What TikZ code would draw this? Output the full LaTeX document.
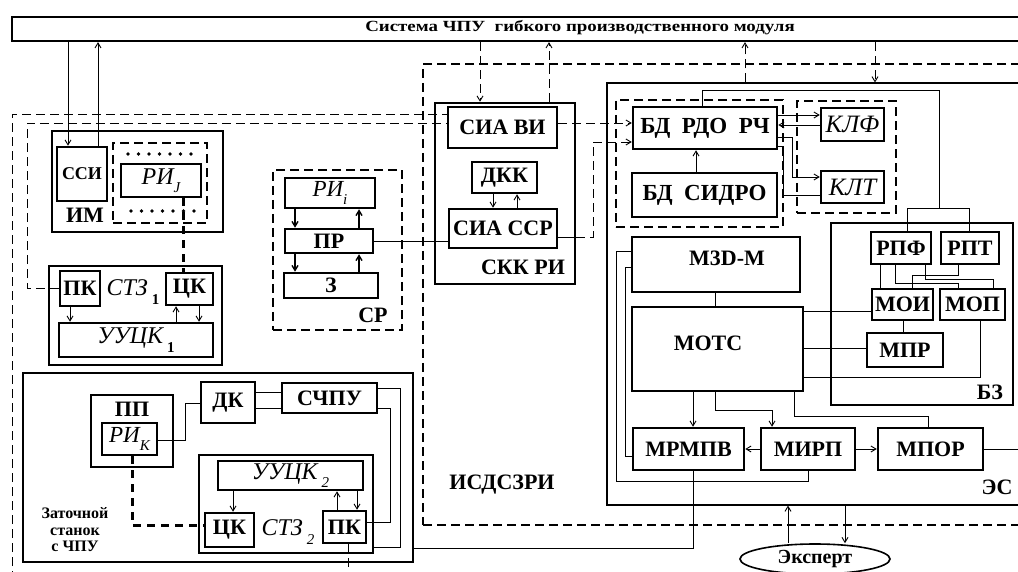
\documentclass[tikz,border=0pt]{standalone}
\usepackage{fontspec}
\setmainfont{Liberation Serif}
\usetikzlibrary{arrows.meta,shapes.geometric}
\newcommand{\lowidx}[1]{\raisebox{-0.35em}{\fontsize{15}{15}\selectfont #1}}
\tikzset{
  blk/.style={draw, line width=2.5pt, inner sep=0pt, font=\bfseries\fontsize{22}{24}\selectfont},
  grp/.style={draw, line width=1.1pt, dash pattern=on 9pt off 5pt, inner sep=0pt},
  sz/.style 2 args={minimum width=#1pt, minimum height=#2pt},
  lbl/.style={inner sep=0pt, font=\bfseries\fontsize{22}{24}\selectfont},
  ital/.style={inner sep=0pt, font=\itshape\fontsize{24}{26}\selectfont},
  wire/.style={line width=0.9pt},
  arr/.style={wire, -{Straight Barb[length=5pt,width=6pt]}},
  dline/.style={line width=0.9pt, dash pattern=on 9pt off 5pt},
  thickdash/.style={line width=3pt, dash pattern=on 8pt off 6pt},
}
\begin{document}
\begin{tikzpicture}[x=1pt,y=-1pt]
\useasboundingbox (0,0) rectangle (1018,572);
% upper system
\node[blk, line width=2.2pt, sz={1018}{24}] (cnc) at (521,29) {};
\node[lbl, font=\bfseries\fontsize{15.5}{16}\selectfont] (cnctext) at (580,28) {\scalebox{1.22}[1]{Система ЧПУ\ \ гибкого производственного модуля}};
% ИСДСЗРИ and ЭС frames
\node[grp, sz={607}{461}] (isd) at (726.5,294.5) {};
\node[lbl] (isdtext) at (502,485) {ИСДСЗРИ};
\node[draw, line width=1.1pt, inner sep=0pt, sz={423}{422}] (es) at (818.5,294) {};
\node[lbl] (estext) at (997,487) {ЭС};

% ИМ
\node[blk, sz={171}{101}] (im) at (137.5,181.5) {};
\node[lbl] (imtext) at (85,215) {ИМ};
\node[blk, sz={50}{54}, font=\bfseries\fontsize{18}{19}\selectfont] (ssi) at (82,174) {ССИ};
\node[grp, sz={94}{80}] (rijgrp) at (160,183) {};
\node[blk, sz={80}{33}, font=\itshape\fontsize{24}{26}\selectfont] (rij) at (161,180.5) {РИ\lowidx{J}};
\foreach \i in {0,...,6} {
  \fill (128+10.5*\i,154) circle (1.8);
  \fill (131+10.5*\i,211) circle (1.8);
}
\draw[arr] (68,0 |- cnc.south) -- (68,0 |- ssi.north);
\draw[arr] (98,0 |- ssi.north) -- (98,0 |- cnc.south);

% СТЗ 1
\node[blk, sz={173}{99}] (stz1) at (135.5,315.5) {};
\node[blk, sz={40}{35}] (pk1) at (80,288.5) {ПК};
\node[blk, sz={47}{32}] (ck1) at (189.5,289) {ЦК};
\node[blk, sz={154}{34}, font=\itshape\fontsize{24}{26}\selectfont] (uuck1) at (136,340) {УУЦК\,\lowidx{\bfseries\upshape 1}};
\node[ital] (stz1text) at (133,292) {СТЗ\,\lowidx{\bfseries\upshape 1}};
\draw[arr] (70,0 |- pk1.south) -- (70,0 |- uuck1.north);
\draw[arr] (176,0 |- uuck1.north) -- (176,0 |- ck1.south);
\draw[arr] (199,0 |- ck1.south) -- (199,0 |- uuck1.north);
\draw[thickdash] (183,0 |- rij.south) -- (183,0 |- ck1.north);

% СР
\node[grp, sz={129}{160}] (sr) at (337.5,250) {};
\node[blk, sz={90}{30}, font=\itshape\fontsize{23}{25}\selectfont] (rii) at (330,193) {РИ\lowidx{i}};
\node[blk, sz={88}{24}] (pr) at (329,241) {ПР};
\node[blk, sz={94}{25}] (zz) at (331,285.5) {З};
\node[lbl] (srtext) at (373,315) {СР};
\draw[arr, line width=1.4pt] (295,0 |- rii.south) -- (295,0 |- pr.north);
\draw[arr, line width=1.4pt] (359,0 |- pr.north) -- (359,0 |- rii.south);
\draw[arr, line width=1.4pt] (295,0 |- pr.south) -- (295,0 |- zz.north);
\draw[arr, line width=1.4pt] (359,0 |- zz.north) -- (359,0 |- pr.south);

% СКК РИ
\node[blk, sz={140}{181}] (skk) at (505,193.5) {};
\node[blk, sz={109}{41}] (siavi) at (502.5,127.5) {СИА ВИ};
\node[blk, sz={65}{31}] (dkk) at (504.5,177.5) {ДКК};
\node[blk, sz={108}{39}] (siassr) at (503,228.5) {СИА ССР};
\node[lbl] (skktext) at (523,267) {СКК РИ};
\draw[arr] (493,0 |- dkk.south) -- (493,0 |- siassr.north);
\draw[arr] (517,0 |- siassr.north) -- (517,0 |- dkk.south);
\draw[wire] (pr.east) -- (siassr.west |- pr.east);
\draw[arr, dline] (480,0 |- cnc.south) -- (480,0 |- skk.north);
\draw[arr, dline] (549,0 |- skk.north) -- (549,0 |- cnc.south);

% left dashed links
\coordinate (outerfoot) at (12,580);
\draw[dline] (outerfoot) -- (12,114) -- (siavi.west |- 0,114);
\draw[dline] (pk1.west) -- (27,0 |- pk1.west) -- (27,123) -- (siavi.west |- 0,123);

% БД
\node[grp, sz={167}{127}] (bdgrp) at (699.5,163.5) {};
\node[grp, sz={99}{112}] (klgrp) at (846.5,157) {};
\node[blk, sz={144}{42}, font=\bfseries\fontsize{23}{25}\selectfont] (bdrdo) at (705,128) {БД\ \ РДО\ \ РЧ};
\node[blk, sz={145}{44}, font=\bfseries\fontsize{23}{25}\selectfont] (bdsidro) at (704.5,195) {БД\ \ СИДРО};
\node[blk, sz={63}{33}, font=\itshape\fontsize{25}{27}\selectfont] (klf) at (852.5,124.5) {КЛФ};
\node[blk, sz={63}{32}, font=\itshape\fontsize{25}{27}\selectfont] (klt) at (852.5,187) {КЛТ};
\draw[arr, dline] (siavi.east |- 0,123) -- (bdrdo.west |- 0,123);
\draw[wire] (siassr.east |- 0,237) -- (skk.east |- 0,237);
\draw[arr, dline] (skk.east |- 0,237) -- (593,237) -- (593,142) -- (bdrdo.west |- 0,142);
\draw[arr] (696,0 |- bdsidro.north) -- (696,0 |- bdrdo.south);
\draw[arr] (bdrdo.east |- 0,115) -- (klf.west |- 0,115);
\draw[arr] (klf.west |- 0,125) -- (bdrdo.east |- 0,125);
\draw[arr] (bdrdo.east |- 0,137) -- (792,137) -- (792,177) -- (klt.west |- 0,177);
\draw[wire] (klt.west |- 0,195) -- (783,195) -- (783,146) -- (bdrdo.east |- 0,146);
\draw[arr, dline] (745,0 |- es.north) -- (745,0 |- cnc.south);
\draw[arr, dline] (875,0 |- cnc.south) -- (875,0 |- es.north);

% БЗ
\node[blk, sz={182}{182}] (bz) at (922,314) {};
\node[lbl] (bztext) at (990,392) {БЗ};
\node[blk, sz={60}{32}] (rpf) at (901,248) {РПФ};
\node[blk, sz={58}{32}] (rpt) at (970,248) {РПТ};
\node[blk, sz={61}{31}] (moi) at (902.5,304.5) {МОИ};
\node[blk, sz={65}{31}] (mop) at (972.5,304.5) {МОП};
\node[blk, sz={76}{34}] (mpr) at (905,350) {МПР};
\draw[wire] (702,0 |- bdrdo.north) -- (702,90) -- (939,90) -- (939,208);
\draw[wire] (907,0 |- rpf.north) -- (907,208) -- (969,208) -- (969,0 |- rpt.north);
\draw[wire] (880,0 |- rpf.south) -- (880,0 |- moi.north);
\draw[wire] (895,0 |- rpf.south) -- (895,283) -- (958,283) -- (958,0 |- mop.north);
\draw[wire] (958,0 |- rpt.south) -- (958,275) -- (912,275) -- (912,0 |- moi.north);
\draw[wire] (925,0 |- rpf.south) -- (925,279) -- (993,279) -- (993,0 |- mop.north);
\draw[wire] (903,0 |- moi.south) -- (903,0 |- mpr.north);

% модули ЭС
\node[blk, sz={168}{55}] (m3d) at (716,264.5) {};
\node[lbl] (m3dtext) at (727,258) {М3D-М};
\node[blk, sz={171}{84}] (mots) at (717.5,349) {};
\node[lbl] (motstext) at (708,343) {МОТС};
\node[blk, sz={111}{42}] (mrmpv) at (688.5,449) {МРМПВ};
\node[blk, sz={94}{42}] (mirp) at (808,449) {МИРП};
\node[blk, sz={105}{42}] (mpor) at (930.5,449) {МПОР};
\coordinate (mporout) at (1030,449);
\draw[wire] (715,0 |- m3d.south) -- (715,0 |- mots.north);
\draw[wire] (mots.east |- 0,311) -- (moi.west |- 0,311);
\draw[wire] (mots.east |- 0,348) -- (mpr.west |- 0,348);
\draw[wire] (mots.east |- 0,377) -- (980,377) -- (980,0 |- mop.south);
\draw[arr] (693,0 |- mots.south) -- (693,0 |- mrmpv.north);
\draw[arr] (715,0 |- mots.south) -- (715,410) -- (772,410) -- (772,0 |- mirp.north);
\draw[wire] (794,0 |- mots.south) -- (794,416) -- (928,416) -- (928,0 |- mpor.north);
\draw[arr] (mirp.west) -- (mrmpv.east);
\draw[arr] (mirp.east) -- (mpor.west);
\draw[wire] (mpor.east) -- (mporout);
\draw[wire] (mrmpv.west |- 0,456) -- (625,456) -- (625,267) -- (m3d.west |- 0,267);
\draw[wire] (m3d.west |- 0,251) -- (616,251) -- (616,481) -- (808,481) -- (808,0 |- mirp.south);

% эксперт
\node[draw, ellipse, line width=1.6pt, inner sep=0pt, sz={150}{30}, font=\bfseries\fontsize{20}{21}\selectfont] (expert) at (815,559) {Эксперт};
\draw[arr] (788,0 |- expert.north) -- (788,0 |- es.south);
\draw[arr] (845,0 |- es.south) -- (845,0 |- expert.north);

% заточной станок
\node[blk, sz={390}{189}] (grinder) at (218,467.5) {};
\node[lbl, align=center, font=\bfseries\fontsize{16}{16.5}\selectfont] (grindtext) at (75,530) {Заточной\\станок\\с ЧПУ};
\node[blk, sz={82}{72}] (pp) at (132,431) {};
\node[lbl] (pptext) at (132,409) {ПП};
\node[blk, sz={55}{32}, font=\itshape\fontsize{23}{25}\selectfont] (rik) at (129.5,439) {РИ\lowidx{К}};
\node[blk, sz={54}{41}] (dk) at (228,402.5) {ДК};
\node[blk, sz={95}{30}] (schpu) at (329.5,398) {СЧПУ};
\node[blk, sz={174}{98}] (stz2) at (286,504) {};
\node[blk, sz={145}{29}, font=\itshape\fontsize{24}{26}\selectfont] (uuck2) at (290.5,475.5) {УУЦК\,\lowidx{2}};
\node[blk, sz={49}{34}] (ck2) at (229.5,530) {ЦК};
\node[blk, sz={43}{32}] (pk2) at (344.5,527) {ПК};
\node[ital] (stz2text) at (288,532) {СТЗ\,\lowidx{2}};
\coordinate (pk2foot) at (348,580);
\draw[wire] (rik.east |- 0,440) -- (185,440) -- (185,403) -- (dk.west |- 0,403);
\draw[wire] (dk.east |- 0,392) -- (schpu.west |- 0,392);
\draw[wire] (dk.east |- 0,408) -- (schpu.west |- 0,408);
\draw[wire] (schpu.east |- 0,388) -- (400,388) -- (400,547) -- (stz2.east |- 0,547);
\draw[wire] (schpu.east |- 0,408) -- (390,408) -- (390,522) -- (pk2.east |- 0,522);
\draw[arr] (233,0 |- uuck2.south) -- (233,0 |- ck2.north);
\draw[arr] (337,0 |- pk2.north) -- (337,0 |- uuck2.south);
\draw[arr] (357,0 |- uuck2.south) -- (357,0 |- pk2.north);
\draw[thickdash] (132,0 |- rik.south) -- (132,525) -- (ck2.west |- 0,525);
\draw[dline] (348,0 |- pk2.south) -- (pk2foot);
\draw[wire] (693,0 |- mrmpv.south) -- (693,548) -- (grinder.east |- 0,548);
\end{tikzpicture}
\end{document}
